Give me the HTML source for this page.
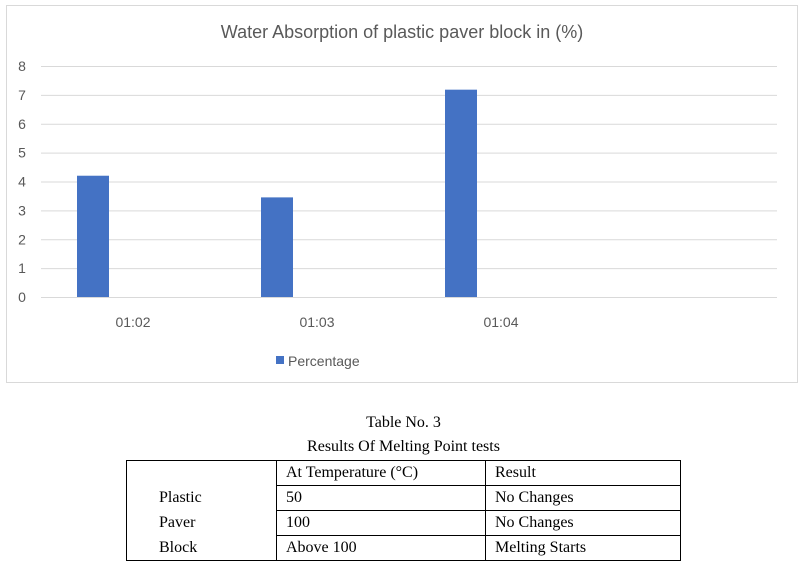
<!DOCTYPE html>
<html><head><meta charset="utf-8"><style>
body{margin:0;width:807px;height:567px;background:#fff;position:relative;overflow:hidden}
svg text{font-family:"Liberation Sans",sans-serif}
.cap{position:absolute;left:0;width:807px;text-align:center;font-family:"Liberation Serif",serif;font-size:16px;color:#000}
table{position:absolute;left:126px;top:460px;border-collapse:collapse;font-family:"Liberation Serif",serif;font-size:16px}
td{border:1px solid #000;height:24px;padding:0 0 0 9px;line-height:24px}
td.m{border:1px solid #000}
</style></head><body>
<svg width="807" height="400" style="position:absolute;left:0;top:0">
<rect x="6.5" y="5.5" width="791" height="377" fill="#fff" stroke="#d9d9d9"/>
<text x="402" y="38" text-anchor="middle" font-size="18" fill="#595959">Water Absorption of plastic paver block in (%)</text>
<g id="grid"></g><g id="bars"></g><g id="xl"></g>
<rect x="276" y="356" width="8" height="8" fill="#4472c4"/>
<text x="288" y="366" font-size="14" fill="#595959">Percentage</text>
</svg>
<div class="cap" style="top:414px">Table No. 3</div>
<div class="cap" style="top:438px">Results Of Melting Point tests</div>
<table>
<tr><td style="width:140px;border-bottom:none"></td><td style="width:199px">At Temperature (°C)</td><td style="width:185px">Result</td></tr>
<tr><td style="border:none;border-left:1px solid #000;padding-left:32px">Plastic</td><td>50</td><td>No Changes</td></tr>
<tr><td style="border:none;border-left:1px solid #000;padding-left:32px">Paver</td><td>100</td><td>No Changes</td></tr>
<tr><td style="border-top:none;padding-left:32px">Block</td><td>Above 100</td><td>Melting Starts</td></tr>
</table>
<script>
const categories=["01:02","01:03","01:04",""];
const values=[4.2,3.45,7.18];
const yTicks=[0,1,2,3,4,5,6,7,8];
const NS="http://www.w3.org/2000/svg";
const x0=41,x1=777,yTop=66,yBot=297,yMax=8;
const y=v=>yBot-(yBot-yTop)*v/yMax;
const bw=(x1-x0)/categories.length;
const cx=i=>x0+bw*(i+0.5);
function mk(t,a,p){const e=document.createElementNS(NS,t);for(const k in a)e.setAttribute(k,a[k]);p.appendChild(e);return e;}
const g=document.getElementById("grid");
yTicks.forEach(t=>{
 const l=mk("line",{x1:x0,x2:x1,y1:y(t)+.5,y2:y(t)+.5,stroke:"#d9d9d9"},g);
 
 
 const tx=mk("text",{x:22,y:y(t)+5,"text-anchor":"middle","font-size":"14",fill:"#595959"},g);
 tx.textContent=t;
 
 
});
const b=document.getElementById("bars");
values.forEach((v,i)=>{
 const r=mk("rect",{x:cx(i)-56,y:y(v),width:32,height:yBot-y(v),fill:"#4472c4"},b);
 
 
});
const xl=document.getElementById("xl");
categories.forEach((c,i)=>{
 if(!c)return;
 const tx=mk("text",{x:cx(i),y:327,"text-anchor":"middle","font-size":"14",fill:"#595959"},xl);
 tx.textContent=c;
 
 
});
</script>
</body></html>
